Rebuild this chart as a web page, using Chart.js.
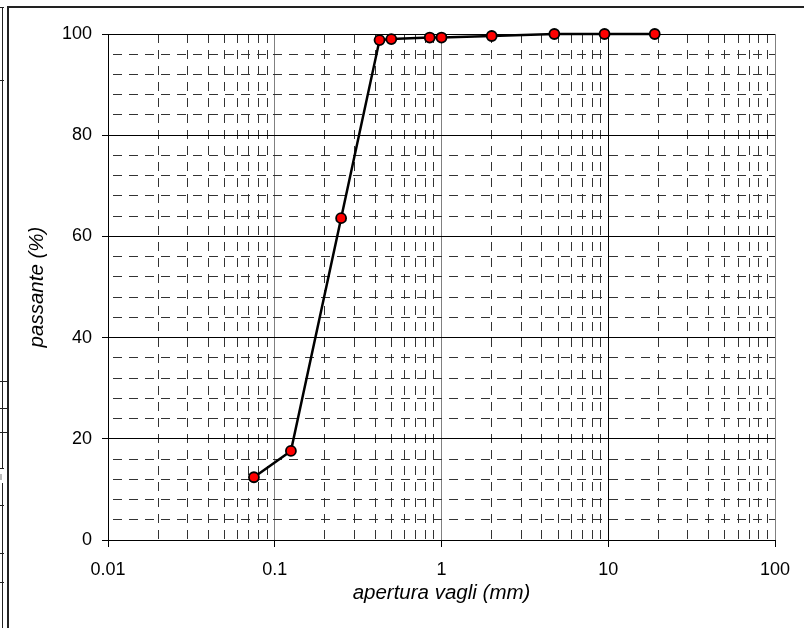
<!DOCTYPE html>
<html>
<head>
<meta charset="utf-8">
<script src="https://cdn.jsdelivr.net/npm/chart.js@4/dist/chart.umd.min.js"></script>
<style>
  html, body { margin: 0; padding: 0; background: #fff; }
  #wrap { position: relative; width: 804px; height: 628px; overflow: hidden; }
  #c { position: absolute; left: 0; top: 0; }
  .ln { position: absolute; background: #222; }
</style>
</head>
<body>
<div id="wrap">
  <canvas id="c" width="804" height="628"></canvas>
  <!-- frame decorations -->
  <div class="ln" style="left:7px;top:6px;width:2px;height:622px;"></div>
  <div class="ln" style="left:7px;top:6px;width:797px;height:2px;"></div>
  <div class="ln" style="left:2px;top:7px;width:1px;height:461px;"></div>
  <div class="ln" style="left:2px;top:483px;width:1px;height:145px;"></div>
  <div class="ln" style="left:0px;top:7px;width:4px;height:1px;"></div>
  <div class="ln" style="left:0px;top:80px;width:4px;height:1px;"></div>
  <div class="ln" style="left:0px;top:381px;width:7px;height:1px;"></div>
  <div class="ln" style="left:0px;top:408px;width:7px;height:1px;"></div>
  <div class="ln" style="left:0px;top:432px;width:7px;height:1px;"></div>
  <div class="ln" style="left:0px;top:468px;width:4px;height:1px;"></div>
  <div class="ln" style="left:0px;top:505px;width:4px;height:1px;"></div>
  <div class="ln" style="left:0px;top:553px;width:4px;height:1px;"></div>
  <div class="ln" style="left:0px;top:582px;width:4px;height:1px;"></div>
  <div class="ln" style="left:0px;top:474px;width:2px;height:6px;background:#bbb;"></div>
</div>
<script>
// ---- data ----
const sieveSizes = [0.075, 0.125, 0.25, 0.425, 0.5, 0.85, 1, 2, 4.75, 9.5, 19];
const passing    = [12.4, 17.6, 63.6, 98.8, 99.0, 99.3, 99.3, 99.6, 100, 100, 100];

const xMajorTicks = [0.01, 0.1, 1, 10, 100];
const xMinorTicks = [0.02, 0.03, 0.04, 0.05, 0.06, 0.07, 0.08, 0.09,
                     0.2, 0.3, 0.4, 0.5, 0.6, 0.7, 0.8, 0.9,
                     2, 3, 4, 5, 6, 7, 8, 9,
                     20, 30, 40, 50, 60, 70, 80, 90];
const yMajorTicks = [0, 20, 40, 60, 80, 100];
const yMinorTicks = [4, 8, 12, 16, 24, 28, 32, 36, 44, 48, 52, 56,
                     64, 68, 72, 76, 84, 88, 92, 96];

const xTitle = 'apertura vagli (mm)';
const yTitle = 'passante (%)';

const FONT = 'Liberation Sans, Arial, sans-serif';
const points = sieveSizes.map((x, i) => ({ x: x, y: passing[i] }));

new Chart(document.getElementById('c'), {
  type: 'scatter',
  data: {
    datasets: [{
      data: points,
      showLine: true,
      clip: false,
      borderColor: '#000',
      borderWidth: 2.5,
      pointRadius: 5,
      pointHoverRadius: 5,
      pointBackgroundColor: '#ff0000',
      pointBorderColor: '#000',
      pointBorderWidth: 1.8,
      xAxisID: 'x',
      yAxisID: 'y'
    }]
  },
  options: {
    responsive: false,
    animation: false,
    events: [],
    layout: { padding: { top: 34, right: 29, bottom: 0, left: 0 } },
    plugins: { legend: { display: false }, tooltip: { enabled: false } },
    scales: {
      x: {
        type: 'logarithmic',
        position: 'bottom',
        min: 0.01, max: 100,
        afterBuildTicks: s => { s.ticks = xMajorTicks.map(v => ({ value: v })); },
        afterFit: s => { s.height = 88; },
        ticks: {
          callback: v => String(v),
          font: { family: FONT, size: 18 },
          color: '#000',
          padding: 12,
          autoSkip: false,
          maxRotation: 0
        },
        grid: {
          color: ctx => (ctx.tick && (ctx.tick.value === 0.1 || ctx.tick.value === 1 || ctx.tick.value === 100)) ? '#808080' : '#000',
          lineWidth: 1,
          tickLength: 7,
          tickColor: '#000'
        },
        border: { color: '#000', width: 1 },
        title: {
          display: true,
          text: xTitle,
          color: '#000',
          font: { family: FONT, size: 20.5, style: 'italic' },
          padding: { top: 0, bottom: 22.5 }
        }
      },
      x2: {
        type: 'logarithmic',
        position: 'top',
        min: 0.01, max: 100,
        afterBuildTicks: s => { s.ticks = xMinorTicks.map(v => ({ value: v })); },
        afterFit: s => { s.height = 0; },
        ticks: { display: false },
        grid: { color: '#333', lineWidth: 1, drawTicks: false },
        border: { display: false, dash: [9, 7], dashOffset: 0 }
      },
      y: {
        type: 'linear',
        position: 'left',
        min: 0, max: 100,
        afterBuildTicks: s => { s.ticks = yMajorTicks.map(v => ({ value: v })); },
        afterFit: s => { s.width = 108; },
        ticks: {
          font: { family: FONT, size: 18 },
          color: '#000',
          padding: 10
        },
        grid: { color: '#000', lineWidth: 1, tickLength: 6, tickColor: '#000' },
        border: { color: '#000', width: 1 },
        title: {
          display: true,
          text: yTitle,
          color: '#000',
          font: { family: FONT, size: 20.5, style: 'italic' },
          padding: { top: 25, bottom: 0 }
        }
      },
      y2: {
        type: 'linear',
        position: 'right',
        min: 0, max: 100,
        afterBuildTicks: s => { s.ticks = yMinorTicks.map(v => ({ value: v })); },
        afterFit: s => { s.width = 0; },
        ticks: { display: false },
        grid: { color: '#333', lineWidth: 1, drawTicks: false },
        border: { display: false, dash: [9, 7], dashOffset: 11 }
      }
    }
  }
});
</script>
</body>
</html>
